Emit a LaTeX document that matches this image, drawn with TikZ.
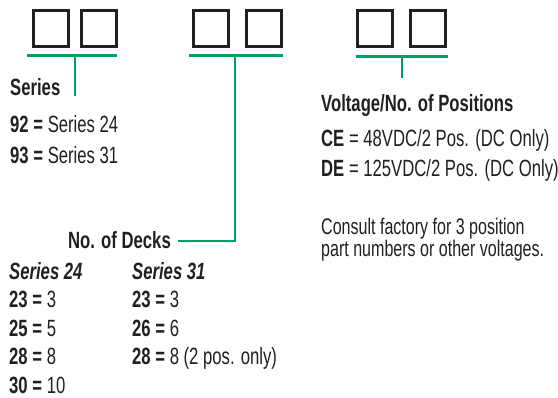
\documentclass[tikz,border=0pt]{standalone}
\usepackage{fontspec}
\setmainfont{Liberation Sans}[FakeStretch=0.71]
\definecolor{grn}{HTML}{00A062}
\definecolor{ink}{HTML}{231F20}
\begin{document}
\begin{tikzpicture}[x=1pt,y=-1pt,
  digit/.style={draw=ink,line width=3pt,minimum width=35pt,minimum height=35.5pt,inner sep=0pt,anchor=north west},
  brk/.style={draw=grn,line width=2.8pt},
  txt/.style={anchor=base west,inner sep=0pt,text=ink,font=\fontsize{23.5}{23.5}\selectfont},
  head/.style={txt,font=\fontsize{23.5}{23.5}\selectfont\bfseries},
  ital/.style={txt,font=\fontsize{23.5}{23.5}\selectfont\bfseries\itshape}]
\useasboundingbox (0,0) rectangle (558,398);
% boxes
\node[digit] (b1) at (31.5,9.5) {};
\node[digit] (b2) at (79.5,9.5) {};
\node[digit] (b3) at (191.5,9.5) {};
\node[digit] (b4) at (244.5,9.5) {};
\node[digit] (b5) at (355.5,9.5) {};
\node[digit] (b6) at (408.5,9.5) {};
% bracket coordinates
\coordinate (l1) at (27,55.5); \coordinate (r1) at (117,55.5); \coordinate (m1) at (75,55.5); \coordinate (e1) at (75,96);
\coordinate (l2) at (189,55.5); \coordinate (r2) at (283,55.5); \coordinate (m2) at (235,55.5); \coordinate (k2) at (235,241); \coordinate (k3) at (178,241);
\coordinate (l3) at (356,56.5); \coordinate (r3) at (448,56.5); \coordinate (m3) at (402,56.5); \coordinate (e3) at (402,78);
% texts
\node[head] (series) at (10,96) {Series};
\node[txt] (s92) at (10,133) {\textbf{92 =} Series 24};
\node[txt] (s93) at (10,164) {\textbf{93 =} Series 31};
\node[head] (volt) at (321,112) {Voltage/No. of Positions};
\node[txt] (ce) at (321,147) {\textbf{CE} = 48VDC/2 Pos. (DC Only)};
\node[txt] (de) at (321,177) {\textbf{DE} = 125VDC/2 Pos. (DC Only)};
\node[txt,align=left,font=\fontsize{22.6}{20}\selectfont] (cons) at (321,257) {Consult factory for 3 position\\part numbers or other voltages.};
\node[head,anchor=base east] (decks) at (171,249) {No. of Decks};
\node[ital] (h24) at (9,280) {Series 24};
\node[ital] (h31) at (132,280) {Series 31};
\node[txt] (a1) at (9,308) {\textbf{23 =} 3};
\node[txt] (a2) at (9,337) {\textbf{25 =} 5};
\node[txt] (a3) at (9,365) {\textbf{28 =} 8};
\node[txt] (a4) at (9,394) {\textbf{30 =} 10};
\node[txt] (d1) at (132,308) {\textbf{23 =} 3};
\node[txt] (d2) at (132,337) {\textbf{26 =} 6};
\node[txt] (d3) at (132,365) {\textbf{28 =} 8 (2 pos. only)};
% connectors
\draw[brk] (l1) -- (r1); \draw[brk] (m1) -- (e1);
\draw[brk] (l2) -- (r2); \draw[brk] (m2) -- (k2) -- (k3);
\draw[brk] (l3) -- (r3); \draw[brk] (m3) -- (e3);
\end{tikzpicture}
\end{document}
